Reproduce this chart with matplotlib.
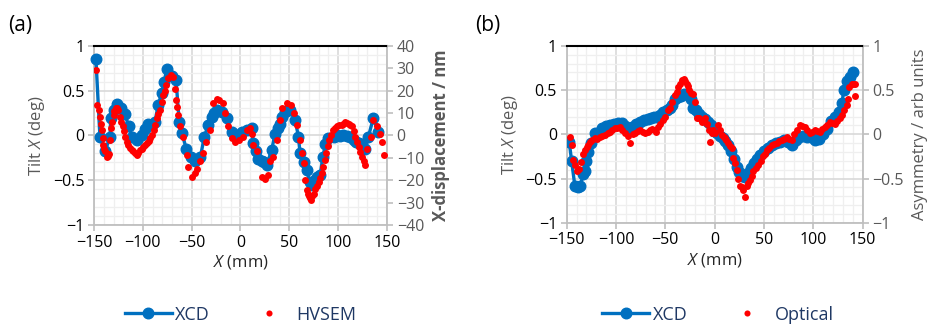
import matplotlib
matplotlib.use("Agg")
import matplotlib.pyplot as plt
from matplotlib.ticker import MultipleLocator, FixedLocator, FuncFormatter
from matplotlib.lines import Line2D

plt.rcParams['font.family'] = ['Open Sans', 'DejaVu Sans']
plt.rcParams['mathtext.fontset'] = 'custom'
plt.rcParams['mathtext.rm'] = 'Open Sans'
plt.rcParams['mathtext.it'] = 'Open Sans:italic'

# ---------------- data: panel (a) ----------------
xcd_a_x = [-148, -143.9, -138.7, -133.6, -132.9, -129.5, -126.8, -122, -118.3, -114.5, -111.4,
           -106.3, -101.2, -97.5, -94.4, -90.5, -87.6, -84.2, -80.7, -78, -75.6, -70.5, -66,
           -62.7, -60, -55.5, -50.5, -46.5, -41, -37, -33, -29.5, -27, -24.3, -19, -14, -9,
           -3.8, 1.3, 6.5, 11.6, 13.3, 16, 18.4, 21.8, 24.5, 27, 32, 35.5, 38, 40.6, 43,
           45.8, 48.5, 51, 56, 59.4, 61, 65, 68, 70.7, 73, 76, 78, 81.6, 84.4, 87, 90, 95.3,
           98.5, 102, 105.5, 109, 112.5, 115.8, 118.5, 121, 124.5, 128, 131, 136, 141]
xcd_a_y = [0.85, -0.015, -0.18, -0.015, 0.19, 0.28, 0.35, 0.3, 0.24, 0.1, -0.015,
           -0.05, 0.0, 0.07, 0.13, 0.12, 0.15, 0.34, 0.47, 0.6, 0.74, 0.66, 0.62,
           0.15, 0.03, -0.15, -0.24, -0.29, -0.24, -0.015, 0.115, 0.21, 0.25, 0.28, 0.26, 0.19, 0.04,
           0.004, 0.04, 0.06, 0.08, -0.09, -0.18, -0.26, -0.29, -0.3, -0.33, -0.16, 0.02, 0.08, 0.13, 0.2,
           0.26, 0.28, 0.28, 0.17, -0.015, -0.2, -0.3, -0.39, -0.52, -0.55, -0.5, -0.46, -0.44, -0.24, -0.1, -0.03, -0.015,
           0.0, -0.007, 0.0, -0.007, -0.02, -0.05, -0.07, -0.09, -0.12, -0.15, -0.015, 0.19, 0.04]

hvsem_x = [-148, -146.6, -144.5, -144, -143, -142, -141, -140.3, -138.7, -137, -135, -134,
           -132.6, -130, -127.7, -125, -123.4, -120.6, -118, -114.8, -111.4, -108, -106,
           -102.8, -99.4, -96, -92.6, -89, -85.8, -82, -79, -76, -73.8, -71.4, -69.3, -67,
           -66, -65.3, -64.3, -62, -58.4, -55, -53.3, -50, -46.5, -44, -41.5, -38, -35, -31,
           -27.7, -24.3, -21.5, -18, -15.7, -12.3, -9, -5.5, -2, 3, 6.5, 10, 11.6, 13.3, 16.7,
           21.8, 25, 28.7, 30.4, 33.8, 37, 40, 43, 47.5, 51.4, 55, 57.7, 61, 65, 68, 70, 72,
           74.8, 78, 81.6, 85, 87.8, 91, 94.6, 98.7, 103.8, 107, 110.7, 114, 117.5, 121, 124,
           127.5, 130, 133.4, 136, 139.7, 142.5, 144.8, 146.5,
           -139.5, -136, -131.5, -129, -126.5, -122, -119.5, -116.5, -113, -110, -104.5, -101,
           -97.5, -94, -91, -87.5, -84, -80.5, -77.5,
           63, 66.5, 69, 71, 73.5, 76.5, 80, 83.5, 86.5, 89.5, 92.5,
           96.5, 101, 105.5, 109, 112, 116, 119, 122.5, 126]
hvsem_nm = [29.2, 13.6, 11.2, 8.4, 5.2, 2.4, -1.2, -4.4, -7.2, -9.6, -8.4, -2, 3.2, 9.2, 12,
            11.2, 8.4, 4, -0.6, -4.4, -6.4, -8, -8.8, -6.4, -5.2, -3.6, -1.2, 2.4, 7.6, 11.2,
            18, 22.4, 25.6, 26.8, 26, 20.8, 15.6, 12.8, 9.2, 4, -0.6, -8.8, -14, -18.4, -16.8,
            -14.8, -11.6, -8, -2.8, 2.4, 14.4, 16.4, 15.6, 14.4, 10, 4, -1.2, -2.8, -2, -0.6,
            2.4, 3.2, 0.8, -4.4, -7.2, -18.4, -19.6, -17.6, -11.6, -9.6, -2, 6.8, 12, 14.4,
            13.6, 10, 4.8, -2, -12.4, -24.4, -27.2, -28.8, -26, -22.8, -19.2, -14, -8, -2,
            2.4, 4, 4.6, 6, 5.2, 4, -0.6, -5.2, -9.6, -13.2, -6, -0.6, 6.8, 4, 0.8, -2.8, -8.8,
            -6, -9.2, 6, 10.8, 12, 6, 2, -2.8, -5.6, -7.2, -8, -6,
            -4.4, -2.4, 0, 4.8, 9.6, 14.8, 20,
            -8, -20, -26, -28, -27.2, -24, -20.8, -16.8, -10.8, -4.8, 0,
            3.2, 4.4, 5.2, 5.6, 4.8, 2, -2.8, -7.6, -11.6]

# ---------------- data: panel (b) ----------------
xcd_b_x = [-147.4, -145, -141.6, -139, -136.5, -133, -131.5, -130, -128, -125, -121.3, -118,
           -114.5, -110, -106, -102, -98, -94.3, -91, -87.6, -84, -80, -76, -72, -68, -65,
           -61, -58, -55, -52, -48, -45, -43, -40, -37, -34, -31, -28, -25.5, -23.5, -21.5,
           -19, -16, -13, -10, -7, -4, -1, 2, 5, 8, 11, 14, 17, 20, 22.5, 25, 28, 31, 34, 37,
           40, 43, 46, 50, 54, 58, 62, 66, 70, 74, 78, 82, 86, 90, 94, 98, 102, 106, 110, 114,
           118, 122, 126, 129, 131, 134, 137, 140]
xcd_b_y = [-0.085, -0.3, -0.59, -0.6, -0.59, -0.45, -0.42, -0.3, -0.2, -0.1, 0.01, 0.02,
           0.066, 0.09, 0.11, 0.12, 0.125, 0.13, 0.09, 0.05, 0.08, 0.12, 0.14, 0.16, 0.17, 0.18,
           0.19, 0.2, 0.22, 0.25, 0.28, 0.3, 0.33, 0.4, 0.42, 0.43, 0.45, 0.46, 0.44, 0.4, 0.3,
           0.27, 0.23, 0.2, 0.17, 0.14, 0.1, 0.04, 0.01, -0.02, -0.04, -0.08, -0.12, -0.19, -0.28, -0.37,
           -0.43, -0.47, -0.48, -0.44, -0.38, -0.33, -0.28, -0.23, -0.19, -0.15, -0.12, -0.1, -0.085,
           -0.07, -0.09, -0.12, -0.07, -0.03, -0.02, -0.03, -0.03, -0.06, -0.05, 0.0, 0.06,
           0.15, 0.2, 0.25, 0.35, 0.5, 0.6, 0.65, 0.7]

optical_x = [-146.6, -145, -143.2, -141.6, -139.9, -137.2, -135.8, -133.1, -129.7, -126.4,
             -121.3, -116.2, -111.1, -106.1, -101, -96, -90.9, -85.8, -80.7, -75.7, -70.6,
             -65.5, -60.5, -57, -52, -47, -43.6, -40.2, -36.8, -33.4, -31, -28.4, -25.7,
             -21.6, -20, -18.2, -13.2, -9.8, -8.1, -4.7, -1.4, 3.7, 7, 10.5, 13.9, 17.2, 19,
             22.3, 25.7, 29, 30.7, 32.4, 35.8, 39.2, 44.3, 49.3, 52.7, 57.8, 62.8, 67.9, 73,
             78, 83, 86.5, 91.5, 96.6, 101.7, 106.8, 111.8, 116.9, 122, 127, 131, 133.8,
             136.5, 138.9, 142.2, 142.2,
             -131, -128, -124, -119, -114, -108.5, -104, -99, -93.5, -88, -83, -78, -73, -68,
             -63, -59, -55, -50, -45, -38.5, -35, -30, -27, -24, -16, -12, -6, -3, 0.5, 5, 9,
             12, 15.5, 20.5, 24, 27.5, 34, 37.5, 42, 47, 51, 55, 60, 65, 70, 75, 80, 88.5, 94,
             99, 104, 109, 114, 119, 124.5, 129, 135, 140]
optical_y = [-0.03, -0.12, -0.29, -0.35, -0.42, -0.39, -0.31, -0.22, -0.14, -0.085,
             -0.047, -0.03, -0.01, 0.03, 0.066, 0.085, 0.01, -0.1, 0.01, 0.047, 0.01,
             0.047, 0.047, 0.085, 0.16, 0.27, 0.37, 0.44, 0.54, 0.61, 0.62, 0.57, 0.5,
             0.46, 0.37, 0.18, 0.14, 0.18, 0.12, -0.085, 0.047, 0.1, -0.01, -0.047, -0.1, -0.16, -0.27,
             -0.4, -0.59, -0.63, -0.71, -0.59, -0.52, -0.42, -0.35, -0.25, -0.18, -0.12, -0.1, -0.066, -0.03,
             -0.066, 0.047, 0.1, 0.085, 0.01, 0.047, 0.03, 0.085, 0.14, 0.12, 0.18, 0.27, 0.33,
             0.54, 0.57, 0.57, 0.43,
             -0.18, -0.12, -0.07, -0.05, -0.02, 0.01, 0.05, 0.07, 0.05, -0.02, 0.0, 0.04, 0.03, 0.03,
             0.06, 0.03, 0.12, 0.2, 0.3, 0.48, 0.57, 0.6, 0.55, 0.47, 0.18, 0.16, 0.05, 0.02, 0.02, 0.05, -0.03,
             -0.07, -0.13, -0.33, -0.5, -0.6, -0.55, -0.47, -0.38, -0.3, -0.22, -0.15, -0.11, -0.08, -0.05, -0.05, 0.0, 0.09, 0.05,
             0.03, 0.04, 0.06, 0.1, 0.13, 0.15, 0.22, 0.4, 0.57]

x_ticks = [-150, -100, -50, 0, 50, 100, 150]
tilt_ticks = [-1, -0.5, 0, 0.5, 1]
nm_ticks = [-40, -30, -20, -10, 0, 10, 20, 30, 40]
asym_ticks = [-1, -0.5, 0, 0.5, 1]

BLUE = '#0070C0'
RED = '#FF0000'
GRAY = '#595959'
SPINE = '#BFBFBF'
LEG = '#1F3864'


def fmt(v, pos=None):
    s = ('%g' % v)
    return s.replace('-', '\u2212')


fig = plt.figure(figsize=(9.36, 3.32), dpi=100)
TS = 11.5
MSB = 7.6
MSR = 5.0


def style_axes(ax, axr, rlim, rticks, rlabel, rbold):
    ax.set_xlim(-150, 150)
    ax.set_ylim(-1, 1)
    ax.xaxis.set_major_locator(FixedLocator(x_ticks))
    ax.yaxis.set_major_locator(FixedLocator(tilt_ticks))
    ax.xaxis.set_minor_locator(MultipleLocator(10))
    ax.yaxis.set_minor_locator(MultipleLocator(0.1))
    ax.xaxis.set_major_formatter(FuncFormatter(fmt))
    ax.yaxis.set_major_formatter(FuncFormatter(fmt))
    ax.grid(which='major', color='#D9D9D9', lw=1.2, zorder=0)
    ax.grid(which='minor', color='#EFEFEF', lw=0.9, zorder=0)
    ax.set_axisbelow(True)
    ax.tick_params(which='minor', length=0)
    ax.tick_params(which='major', length=4, width=1.2, color=SPINE, labelsize=TS,
                   labelcolor='black', pad=3)
    for s in ['left', 'bottom', 'right']:
        ax.spines[s].set_color(SPINE)
        ax.spines[s].set_linewidth(1.3)
    ax.spines['top'].set_color('black')
    ax.spines['top'].set_linewidth(1.5)
    ax.set_xlabel('$X$ (mm)', fontsize=12, color='#262626', labelpad=2)
    ax.set_ylabel('Tilt $X$ (deg)', fontsize=12, color=GRAY, labelpad=4)

    axr.set_ylim(*rlim)
    axr.yaxis.set_major_locator(FixedLocator(rticks))
    axr.yaxis.set_major_formatter(FuncFormatter(fmt))
    axr.tick_params(axis='y', length=4, width=1.2, color=SPINE, labelsize=TS,
                    labelcolor=GRAY, pad=3)
    for s in ['left', 'bottom', 'right', 'top']:
        axr.spines[s].set_visible(False)
    axr.set_ylabel(rlabel, fontsize=12, color=GRAY,
                   fontweight='bold' if rbold else 'normal', labelpad=6)


# Panel (a)
ax1 = fig.add_axes([0.1004, 0.3223, 0.313, 0.540])
ax1r = ax1.twinx()
style_axes(ax1, ax1r, (-40, 40), nm_ticks, 'X-displacement / nm', True)
ax1.plot(xcd_a_x, xcd_a_y, '-o', color=BLUE, lw=2.4, ms=MSB, zorder=3, clip_on=False)
ax1r.plot(hvsem_x, hvsem_nm, 'o', color=RED, ms=MSR, mew=0, zorder=4)

# Panel (b)
ax2 = fig.add_axes([0.6054, 0.329, 0.3162, 0.533])
ax2r = ax2.twinx()
style_axes(ax2, ax2r, (-1, 1), asym_ticks, 'Asymmetry / arb units', False)
ax2.plot(xcd_b_x, xcd_b_y, '-o', color=BLUE, lw=2.4, ms=MSB, zorder=3)
ax2r.plot(optical_x, optical_y, 'o', color=RED, ms=MSR, mew=0, zorder=4)

fig.text(0.009, 0.955, '(a)', fontsize=15, va='top', ha='left')
fig.text(0.508, 0.955, '(b)', fontsize=15, va='top', ha='left')

h_xcd = Line2D([], [], color=BLUE, lw=2.4, marker='o', ms=MSB)
h_red = Line2D([], [], color=RED, lw=0, marker='o', ms=4.4, mew=0)
for cx, lab in [(0.257, 'HVSEM'), (0.767, 'Optical')]:
    leg = fig.legend([h_xcd, h_red], ['XCD', lab], loc='center', bbox_to_anchor=(cx, 0.052),
                     ncol=2, frameon=False, fontsize=13, handlelength=2.6,
                     handletextpad=0.2, columnspacing=2.0, labelcolor=LEG)

fig.savefig('out.png', dpi=100)
